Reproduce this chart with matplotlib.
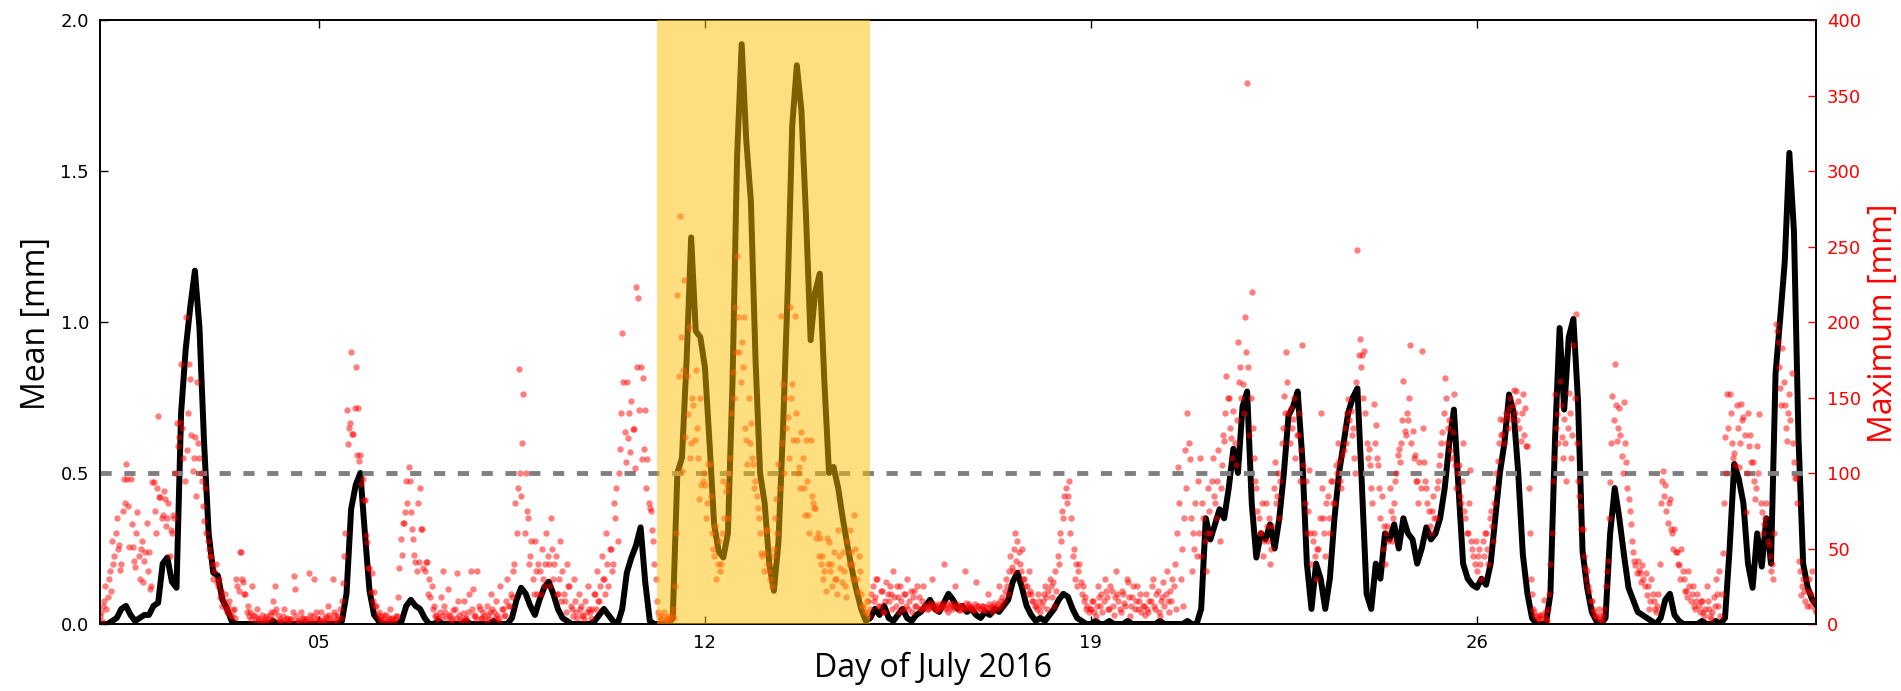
import numpy as np
import pandas as pd
import matplotlib
matplotlib.use("Agg")
import matplotlib.pyplot as plt
import matplotlib.dates as mdates

# ---------------- data ----------------
START = "2016-07-01 00:00"
# mean [mm], 2-hourly samples, one row per day
mean_days = [
    [0.0, 0.0, 0.0, 0.01, 0.02, 0.05, 0.06, 0.03, 0.01, 0.02, 0.03, 0.03],
    [0.06, 0.07, 0.20, 0.22, 0.14, 0.12, 0.70, 0.91, 1.05, 1.17, 0.98, 0.60],
    [0.30, 0.17, 0.16, 0.08, 0.05, 0.01, 0.0, 0.0, 0.0, 0.0, 0.0, 0.0],
    [0.0, 0.0, 0.01, 0.0, 0.0, 0.0, 0.0, 0.0, 0.0, 0.0, 0.0, 0.0],
    [0.0, 0.0, 0.0, 0.0, 0.0, 0.01, 0.10, 0.38, 0.46, 0.50, 0.30, 0.11],
    [0.03, 0.01, 0.0, 0.0, 0.0, 0.0, 0.01, 0.06, 0.08, 0.06, 0.05, 0.02],
    [0.0, 0.0, 0.01, 0.0, 0.0, 0.0, 0.0, 0.0, 0.01, 0.0, 0.0, 0.0],
    [0.0, 0.0, 0.01, 0.0, 0.0, 0.0, 0.02, 0.08, 0.12, 0.10, 0.06, 0.03],
    [0.08, 0.12, 0.14, 0.10, 0.05, 0.02, 0.01, 0.0, 0.0, 0.0, 0.0, 0.0],
    [0.01, 0.03, 0.05, 0.03, 0.01, 0.0, 0.05, 0.17, 0.22, 0.26, 0.32, 0.14],
    [0.01, 0.0, 0.0, 0.0, 0.0, 0.02, 0.50, 0.55, 0.87, 1.28, 0.97, 0.95],
    [0.85, 0.60, 0.33, 0.24, 0.22, 0.30, 0.80, 1.55, 1.92, 1.60, 1.40, 0.88],
    [0.50, 0.40, 0.20, 0.11, 0.27, 0.65, 1.10, 1.65, 1.85, 1.70, 1.35, 0.94],
    [1.10, 1.16, 0.80, 0.50, 0.52, 0.45, 0.35, 0.26, 0.18, 0.11, 0.05, 0.01],
    [0.02, 0.05, 0.03, 0.06, 0.02, 0.01, 0.03, 0.05, 0.02, 0.01, 0.03, 0.04],
    [0.06, 0.08, 0.05, 0.04, 0.07, 0.10, 0.08, 0.05, 0.06, 0.04, 0.05, 0.03],
    [0.02, 0.04, 0.03, 0.05, 0.04, 0.06, 0.08, 0.14, 0.17, 0.12, 0.06, 0.03],
    [0.01, 0.02, 0.01, 0.03, 0.05, 0.08, 0.10, 0.09, 0.05, 0.02, 0.01, 0.0],
    [0.0, 0.01, 0.0, 0.0, 0.01, 0.0, 0.0, 0.0, 0.01, 0.0, 0.0, 0.0],
    [0.0, 0.0, 0.0, 0.01, 0.0, 0.0, 0.0, 0.0, 0.0, 0.01, 0.0, 0.0],
    [0.05, 0.35, 0.28, 0.33, 0.38, 0.35, 0.45, 0.58, 0.50, 0.72, 0.77, 0.40],
    [0.22, 0.30, 0.28, 0.33, 0.25, 0.35, 0.50, 0.69, 0.72, 0.77, 0.55, 0.20],
    [0.05, 0.20, 0.15, 0.05, 0.15, 0.35, 0.50, 0.60, 0.70, 0.75, 0.78, 0.45],
    [0.10, 0.05, 0.20, 0.15, 0.30, 0.28, 0.33, 0.25, 0.35, 0.30, 0.28, 0.20],
    [0.25, 0.32, 0.28, 0.30, 0.35, 0.45, 0.60, 0.71, 0.45, 0.20, 0.15, 0.13],
    [0.12, 0.15, 0.13, 0.20, 0.35, 0.50, 0.60, 0.76, 0.70, 0.50, 0.23, 0.10],
    [0.02, 0.0, 0.0, 0.0, 0.10, 0.61, 0.98, 0.71, 0.95, 1.01, 0.74, 0.24],
    [0.12, 0.04, 0.01, 0.0, 0.02, 0.30, 0.45, 0.35, 0.23, 0.12, 0.08, 0.04],
    [0.03, 0.02, 0.01, 0.0, 0.02, 0.08, 0.10, 0.03, 0.01, 0.0, 0.0, 0.0],
    [0.0, 0.01, 0.0, 0.0, 0.01, 0.0, 0.02, 0.25, 0.53, 0.48, 0.40, 0.20],
    [0.12, 0.30, 0.19, 0.35, 0.20, 0.83, 1.01, 1.20, 1.56, 1.30, 0.61, 0.20],
    [0.12, 0.08, 0.06],
]

# maximum [mm], half-hourly samples, one row per day
max_days = [
    [3, 5, 8, 2, 12, 15, 25, 10, 18, 30, 35, 22, 55, 40, 45, 60, 70, 50, 52, 36, 40, 75, 96, 80,
     106, 96, 78, 51, 96, 66, 51, 42, 38, 60, 74, 45, 30, 50, 55, 28, 42, 48, 67, 35, 48, 23, 25, 94],
    [94, 75, 60, 90, 138, 84, 84, 70, 72, 88, 83, 65, 70, 80, 45, 62, 60, 72, 70, 100, 133, 118, 124, 134,
     172, 130, 110, 95, 203, 115, 140, 172, 162, 125, 101, 110, 124, 85, 160, 120, 110, 100, 95, 78, 68, 90, 60, 55],
    [50, 45, 45, 40, 30, 35, 40, 28, 25, 30, 18, 22, 12, 15, 20, 10, 8, 12, 15, 6, 5, 9, 10, 4,
     30, 25, 22, 48, 48, 30, 28, 20, 20, 8, 12, 5, 8, 3, 25, 6, 5, 2, 10, 4, 3, 1, 6, 2],
    [2, 4, 5, 1, 3, 6, 8, 3, 15, 8, 25, 10, 6, 2, 3, 1, 2, 5, 10, 3, 4, 2, 1, 3,
     3, 8, 32, 23, 5, 2, 2, 1, 8, 4, 4, 2, 1, 3, 3, 34, 6, 2, 2, 5, 30, 8, 4, 2],
    [3, 1, 8, 2, 2, 4, 5, 2, 12, 6, 4, 2, 30, 8, 6, 3, 2, 5, 10, 4, 15, 27, 45, 60,
     142, 119, 130, 133, 180, 126, 126, 143, 170, 112, 143, 108, 112, 93, 96, 82, 82, 59, 54, 37, 37, 21, 34, 15],
    [21, 12, 12, 6, 8, 3, 5, 2, 3, 6, 6, 2, 2, 4, 10, 3, 4, 2, 3, 5, 5, 18, 37, 56,
     46, 67, 67, 74, 95, 80, 104, 95, 74, 63, 56, 46, 41, 35, 80, 41, 90, 63, 63, 37, 35, 41, 41, 20],
    [30, 18, 25, 10, 12, 5, 6, 3, 4, 8, 18, 5, 35, 12, 8, 4, 23, 6, 5, 2, 3, 9, 10, 4,
     34, 15, 6, 3, 2, 7, 15, 4, 4, 2, 8, 20, 35, 10, 23, 6, 5, 3, 35, 12, 10, 4, 4, 8],
    [5, 2, 12, 6, 3, 8, 20, 10, 8, 4, 15, 6, 4, 2, 25, 10, 10, 5, 6, 15, 30, 12, 12, 20,
     18, 35, 40, 80, 60, 90, 169, 100, 85, 120, 152, 60, 100, 75, 70, 40, 45, 55, 30, 20, 55, 35, 20, 40],
    [35, 20, 50, 30, 25, 40, 60, 45, 40, 25, 70, 50, 30, 40, 45, 20, 20, 30, 55, 15, 35, 20, 15, 8,
     40, 25, 25, 12, 10, 5, 30, 15, 8, 4, 20, 10, 12, 6, 5, 3, 15, 8, 25, 10, 8, 4, 10, 20],
    [20, 10, 35, 15, 15, 25, 45, 30, 30, 20, 60, 40, 25, 50, 50, 35, 40, 80, 70, 90, 55, 100, 116, 140,
     193, 160, 127, 107, 160, 123, 140, 114, 148, 129, 129, 103, 223, 170, 216, 142, 170, 109, 163, 116, 142, 90, 109, 80],
    [77, 75, 62, 55, 40, 30, 15, 8, 5, 2, 3, 5, 8, 2, 2, 4, 5, 1, 3, 6, 10, 4, 25, 60,
     218, 164, 270, 190, 101, 168, 228, 124, 164, 139, 197, 110, 120, 150, 145, 122, 168, 130, 110, 83, 150, 92, 95, 100],
    [92, 70, 80, 106, 106, 85, 60, 50, 45, 65, 30, 40, 55, 35, 40, 60, 95, 70, 88, 92, 70, 100, 110, 140,
     167, 150, 210, 180, 244, 203, 180, 160, 187, 170, 203, 130, 122, 106, 150, 120, 133, 110, 106, 90, 95, 85, 77, 70],
    [60, 47, 45, 35, 47, 62, 62, 40, 35, 30, 25, 45, 50, 70, 83, 60, 106, 90, 204, 120, 159, 100, 150, 130,
     137, 110, 210, 150, 159, 122, 204, 140, 122, 100, 104, 90, 127, 110, 90, 72, 122, 95, 72, 60, 122, 85, 80, 77],
    [77, 57, 60, 45, 57, 40, 45, 30, 35, 22, 57, 40, 54, 35, 40, 25, 48, 30, 30, 20, 62, 45, 37, 28,
     48, 35, 25, 18, 55, 40, 62, 48, 40, 30, 72, 50, 30, 22, 45, 35, 20, 12, 12, 8, 8, 15, 15, 5],
    [10, 20, 25, 15, 18, 30, 30, 12, 12, 22, 22, 8, 8, 15, 28, 20, 15, 25, 20, 10, 35, 18, 12, 25,
     18, 8, 25, 15, 10, 20, 20, 12, 30, 10, 15, 22, 8, 18, 22, 12, 12, 25, 18, 10, 10, 15, 25, 12],
    [12, 10, 10, 12, 14, 11, 30, 13, 11, 9, 9, 12, 13, 10, 12, 14, 40, 11, 10, 13, 8, 12, 14, 10,
     12, 11, 25, 13, 11, 9, 9, 12, 12, 10, 35, 14, 10, 12, 13, 11, 11, 9, 9, 13, 28, 12, 12, 10],
    [10, 12, 12, 9, 9, 11, 20, 13, 11, 10, 8, 12, 14, 11, 10, 13, 25, 15, 12, 18, 15, 22, 30, 25,
     20, 35, 45, 38, 35, 50, 60, 42, 55, 48, 40, 35, 50, 30, 30, 25, 25, 20, 35, 22, 20, 15, 15, 12],
    [12, 10, 20, 15, 8, 12, 15, 20, 25, 18, 10, 22, 30, 25, 18, 28, 12, 35, 22, 45, 40, 60, 55, 75,
     70, 85, 90, 80, 85, 95, 60, 70, 45, 50, 30, 40, 25, 35, 40, 28, 20, 25, 15, 18, 10, 12, 8, 10],
    [10, 15, 15, 8, 5, 12, 25, 18, 12, 20, 8, 15, 30, 22, 18, 10, 10, 25, 22, 12, 6, 18, 35, 20,
     15, 10, 8, 22, 20, 14, 12, 30, 28, 18, 5, 12, 18, 25, 10, 15, 25, 10, 15, 20, 8, 12, 12, 6],
    [20, 10, 8, 15, 15, 25, 30, 12, 10, 20, 22, 8, 5, 15, 18, 28, 12, 20, 35, 15, 8, 22, 15, 30,
     25, 40, 10, 60, 104, 80, 30, 50, 12, 70, 115, 90, 140, 120, 109, 70, 35, 60, 50, 80, 45, 95, 60, 110],
    [45, 80, 70, 55, 35, 60, 90, 75, 60, 95, 110, 85, 80, 70, 95, 115, 55, 90, 105, 125, 121, 140, 164, 150,
     150, 130, 123, 110, 141, 120, 105, 135, 187, 160, 170, 150, 159, 140, 203, 180, 358, 170, 125, 150, 220, 130, 110, 95],
    [90, 75, 70, 60, 60, 80, 45, 55, 80, 65, 55, 70, 40, 50, 65, 90, 107, 80, 85, 100, 70, 95, 120, 130,
     151, 140, 180, 160, 140, 120, 143, 130, 136, 150, 110, 125, 125, 140, 95, 115, 185, 105, 80, 95, 60, 75, 102, 60],
    [40, 55, 60, 45, 30, 50, 50, 70, 140, 90, 70, 60, 45, 80, 85, 70, 60, 95, 95, 80, 80, 105, 100, 120,
     108, 95, 90, 112, 115, 130, 120, 140, 149, 135, 141, 125, 130, 110, 100, 160, 248, 178, 189, 170, 178, 150, 181, 140],
    [120, 110, 116, 105, 90, 80, 146, 120, 132, 110, 105, 90, 70, 85, 50, 65, 40, 60, 65, 55, 90, 75, 55, 70,
     80, 95, 100, 112, 116, 107, 120, 135, 161, 128, 125, 140, 135, 150, 185, 120, 128, 110, 112, 95, 95, 80, 107, 90],
    [181, 130, 107, 95, 90, 80, 75, 65, 60, 75, 85, 70, 70, 90, 95, 105, 112, 120, 127, 140, 163, 150, 120, 130,
     135, 115, 110, 127, 152, 105, 90, 100, 105, 85, 80, 95, 120, 75, 70, 60, 60, 80, 102, 55, 50, 45, 40, 55],
    [35, 45, 50, 40, 30, 55, 45, 60, 60, 50, 40, 70, 75, 65, 55, 80, 90, 100, 108, 120, 136, 125, 126, 135,
     120, 140, 138, 130, 143, 150, 136, 145, 155, 140, 154, 135, 148, 130, 121, 140, 152, 125, 143, 118, 118, 90, 60, 30],
    [20, 10, 8, 5, 5, 3, 3, 6, 6, 4, 16, 8, 4, 2, 10, 20, 40, 60, 95, 110, 152, 130, 139, 120,
     161, 145, 124, 110, 136, 120, 95, 130, 153, 140, 110, 125, 185, 150, 205, 120, 95, 85, 78, 63, 63, 45, 37, 30],
    [35, 25, 22, 15, 15, 10, 8, 5, 5, 3, 10, 6, 3, 2, 6, 10, 25, 35, 42, 70, 94, 120, 151, 135,
     172, 145, 121, 130, 143, 125, 111, 100, 147, 120, 107, 90, 83, 75, 66, 55, 48, 42, 39, 34, 42, 36, 34, 28],
    [39, 30, 25, 34, 19, 25, 10, 15, 30, 20, 15, 10, 8, 12, 20, 40, 80, 95, 101, 85, 92, 75, 67, 80,
     83, 63, 60, 50, 63, 48, 48, 40, 39, 30, 50, 35, 30, 22, 22, 18, 35, 25, 15, 20, 25, 12, 10, 15],
    [20, 12, 8, 15, 15, 8, 5, 10, 25, 15, 10, 5, 3, 8, 18, 12, 30, 20, 12, 35, 5, 20, 47, 80,
     124, 100, 152, 130, 152, 140, 120, 110, 113, 105, 145, 130, 104, 120, 146, 135, 137, 125, 74, 100, 140, 118, 125, 107],
    [107, 95, 83, 90, 118, 100, 139, 80, 74, 60, 66, 70, 80, 55, 52, 45, 35, 40, 30, 60, 199, 194, 187, 170,
     156, 145, 183, 160, 145, 130, 121, 140, 152, 135, 166, 120, 107, 97, 97, 80, 42, 35, 19, 25, 30, 22, 15, 12],
    [22, 30, 12, 20, 35, 15, 10, 8],
]

event_start = "2016-07-11 03:00"
event_end = "2016-07-15 00:00"
threshold = 0.5
mean_ticks = [0.0, 0.5, 1.0, 1.5, 2.0]
max_ticks = [0, 50, 100, 150, 200, 250, 300, 350, 400]
tick_days = [5, 12, 19, 26]

# ---------------- build series ----------------
mean_vals = np.concatenate([np.asarray(d, float) for d in mean_days])
max_vals = np.concatenate([np.asarray(d, float) for d in max_days])
t0 = pd.Timestamp(START)
t_mean = t0 + pd.to_timedelta(np.arange(len(mean_vals)) * 120, unit="min")
t_max = t0 + pd.to_timedelta(np.arange(len(max_vals)) * 30, unit="min")

# ---------------- figure ----------------
W, H = 1901, 691
fig = plt.figure(figsize=(W / 100, H / 100), dpi=100)
L, R, T, B = 100, 1816, 20, 624
ax1 = fig.add_axes([L / W, 1 - B / H, (R - L) / W, (B - T) / H])
ax2 = ax1.twinx()

ax1.plot(t_mean, mean_vals, color="black", lw=4.3, zorder=2)
ax1.axhline(threshold, color="#7f7f7f", lw=3.5, ls=(0, (2.3, 2.6)), zorder=3)

ax2.plot(t_max, max_vals, "o", color="red", ms=4.6, alpha=0.5, mec="none", zorder=2)
ax2.axvspan(pd.Timestamp(event_start), pd.Timestamp(event_end), color="#FFBE00",
            alpha=0.5, lw=0, zorder=10)

ax1.set_ylim(0, 2.0)
ax2.set_ylim(0, 400)
ax1.set_xlim(t0 + pd.Timedelta(hours=0.7), t0 + pd.Timedelta(days=31.15))

ax1.set_yticks(mean_ticks)
ax1.set_yticklabels([f"{v:.1f}" for v in mean_ticks])
ax2.set_yticks(max_ticks)
ax2.set_yticklabels([str(v) for v in max_ticks])

ax1.xaxis.set_major_locator(mdates.DayLocator(bymonthday=tick_days))
ax1.xaxis.set_major_formatter(mdates.DateFormatter("%d"))
ax1.xaxis.set_minor_locator(plt.NullLocator())

ax1.tick_params(axis="x", direction="in", top=True, bottom=True, length=6, width=1,
                labelsize=13, pad=7, colors="black")
ax1.tick_params(axis="y", direction="in", left=True, right=False, length=6, width=1,
                labelsize=13, pad=8)
ax2.tick_params(axis="y", direction="in", right=True, left=False, length=6, width=1,
                labelsize=13, pad=8, colors="red")
for sp in ax1.spines.values():
    sp.set_linewidth(1.2)
for sp in ax2.spines.values():
    sp.set_linewidth(1.2)
    sp.set_color("black")

lab = dict(family="Open Sans", fontsize=23)
fig.text(933 / W, 1 - 668 / H, "Day of July 2016", ha="center", va="center", **lab)
fig.text(37 / W, 1 - 323 / H, "Mean [mm]", rotation=90, ha="center", va="center", **lab)
fig.text(1883 / W, 1 - 323 / H, "Maximum [mm]", rotation=90, ha="center", va="center",
         color="red", **lab)

fig.savefig("out.png", dpi=100)
